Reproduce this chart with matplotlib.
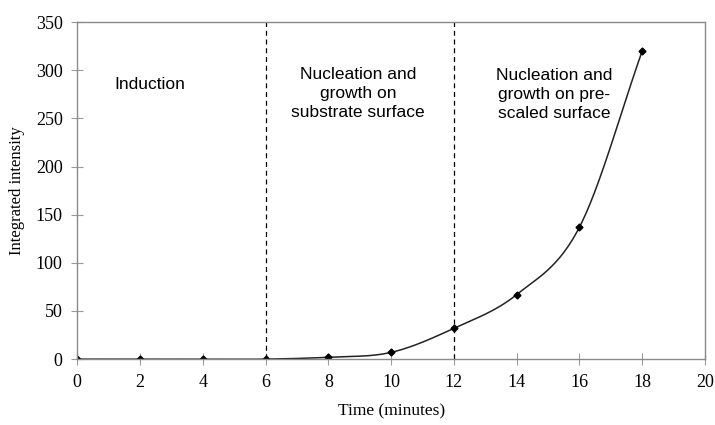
import matplotlib
matplotlib.use("Agg")
import matplotlib.pyplot as plt
import numpy as np

# data
time_min = [0, 2, 4, 6, 8, 10, 12, 14, 16, 18]
intensity = [0, 0, 0, 0, 2, 7, 32, 67, 137, 320]
boundaries = [6, 12]
regions = ["Induction",
           "Nucleation and\ngrowth on\nsubstrate surface",
           "Nucleation and\ngrowth on pre-\nscaled surface"]
region_x = [2.3, 8.95, 15.2]
region_y = [285, 276, 275]


def smooth(x, y, n=30):
    # catmull-rom style smoothing, roughly what a spreadsheet "smoothed line" does
    x = np.asarray(x, float)
    y = np.asarray(y, float)
    px = np.concatenate([[2 * x[0] - x[1]], x, [2 * x[-1] - x[-2]]])
    py = np.concatenate([[2 * y[0] - y[1]], y, [2 * y[-1] - y[-2]]])
    xs, ys = [], []
    t = np.linspace(0, 1, n)
    for i in range(1, len(px) - 2):
        for p, out in ((px, xs), (py, ys)):
            p0, p1, p2, p3 = p[i - 1], p[i], p[i + 1], p[i + 2]
            out.extend(0.5 * (2 * p1 + (-p0 + p2) * t
                              + (2 * p0 - 5 * p1 + 4 * p2 - p3) * t ** 2
                              + (-p0 + 3 * p1 - 3 * p2 + p3) * t ** 3))
    return np.array(xs), np.array(ys)


fig = plt.figure(figsize=(7.15, 4.25), dpi=100)
ax = fig.add_axes([0.108, 0.155, 0.878, 0.793])

sx, sy = smooth(time_min, intensity)
ax.plot(sx, sy, color="#222222", lw=1.1)
ax.plot(time_min, intensity, linestyle="none", marker="D", ms=3.5,
        color="black")

for b in boundaries:
    ax.axvline(b, color="black", lw=0.9, ls=(0, (4, 3)))

for txt, tx, ty in zip(regions, region_x, region_y):
    ax.text(tx, ty, txt, ha="center", va="center", fontsize=12.5,
            family="Liberation Sans", linespacing=1.35)

ax.set_xlim(0, 20)
ax.set_ylim(0, 350)
ax.set_xticks(range(0, 21, 2))
ax.set_yticks(range(0, 351, 50))

for s in ax.spines.values():
    s.set_color("#8a8a8a")
    s.set_linewidth(1.0)
ax.tick_params(direction="inout", length=9, width=0.8, color="#9a9a9a",
               labelsize=13, pad=6)
for lab in ax.get_xticklabels() + ax.get_yticklabels():
    lab.set_family("Liberation Serif")

ax.set_xlabel("Time (minutes)", family="Liberation Serif", fontsize=12.5,
              labelpad=9)
ax.set_ylabel("Integrated intensity", family="Liberation Serif",
              fontsize=12, labelpad=8)

fig.savefig("out.png", dpi=100)
